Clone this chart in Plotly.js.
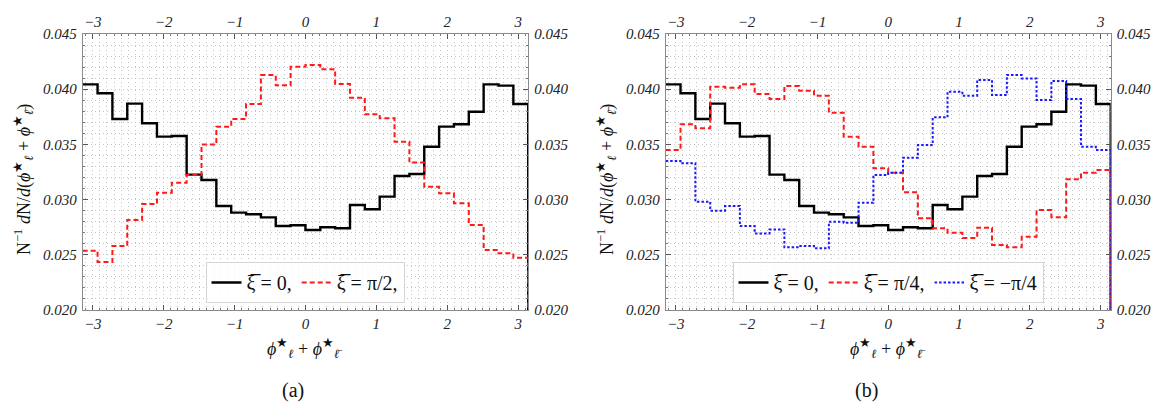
<!DOCTYPE html>
<html>
<head>
<meta charset="utf-8">
<script src="https://cdn.plot.ly/plotly-3.0.1.min.js"></script>
<style>
html,body{margin:0;padding:0;background:#fff;}
#chart{width:1153px;height:405px;}
</style>
</head>
<body>
<div id="chart"></div>
<script>
// ---- data (bin heights, 30 bins from -pi to pi) ----
var nBins = 30;
var xiZero = [0.04044,0.03963,0.0373,0.03869,0.03691,0.0357,0.03576,0.03226,0.03178,0.02942,0.02882,0.02867,0.02839,0.02761,0.02767,0.02725,0.02749,0.0274,0.02951,0.02912,0.03027,0.03214,0.03232,0.03479,0.03661,0.03682,0.03796,0.04044,0.04032,0.03866];
var xiPiHalf = [0.02537,0.02435,0.0258,0.02815,0.0296,0.03063,0.03153,0.03223,0.035,0.03661,0.0373,0.03866,0.04129,0.04035,0.04204,0.04219,0.0418,0.04047,0.03923,0.03772,0.03736,0.03525,0.03335,0.03117,0.03057,0.02966,0.0277,0.02543,0.02513,0.02474];
var xiPiQuarter = [0.03449,0.03682,0.03646,0.04023,0.04014,0.04044,0.03957,0.03911,0.04029,0.03987,0.03941,0.03787,0.0357,0.03479,0.03283,0.03244,0.03066,0.0283,0.0274,0.027,0.02652,0.02746,0.02589,0.02568,0.02664,0.02906,0.0284,0.03184,0.03244,0.03268];
var xiMinusPiQuarter = [0.0335,0.03329,0.02981,0.029,0.02942,0.02761,0.02694,0.0273,0.02568,0.0258,0.02559,0.028,0.02791,0.02972,0.03223,0.03244,0.0338,0.03495,0.03745,0.03978,0.03941,0.04083,0.03947,0.04129,0.04098,0.03902,0.04074,0.03911,0.03479,0.03449];
var legendA = ["ξ̅ = 0,", "ξ̅ = π/2,"];
var legendB = ["ξ̅ = 0,", "ξ̅ = π/4,", "ξ̅ = −π/4"];
var xTicks = [-3,-2,-1,0,1,2,3];
var yTicks = [0.020,0.025,0.030,0.035,0.040,0.045];

var PI = Math.PI;
var yMin = 0.020, yMax = 0.045;

function stepXY(vals){
  var xs = [], ys = [];
  for (var k = 0; k < vals.length; k++){
    xs.push(-PI + k*2*PI/vals.length);
    ys.push(vals[k]);
  }
  xs.push(PI); ys.push(vals[vals.length-1]);
  xs.push(PI); ys.push(yMin);   // closing drop at the right edge
  return {x: xs, y: ys};
}

function trace(vals, name, color, dash, width, xa, ya, leg){
  var s = stepXY(vals);
  return {x: s.x, y: s.y, type:'scatter', mode:'lines', name:name,
    line:{shape:'hv', color:color, dash:dash, width:width},
    xaxis:xa, yaxis:ya, legend:leg, hoverinfo:'skip'};
}

var data = [
  trace(xiZero, legendA[0], '#000000', 'solid', 2.4, 'x', 'y', 'legend'),
  trace(xiPiHalf, legendA[1], '#ff1a1a', '5px,3px', 2, 'x2', 'y2', 'legend'),
  trace(xiZero, legendB[0], '#000000', 'solid', 2.4, 'x3', 'y3', 'legend2'),
  trace(xiPiQuarter, legendB[1], '#ff1a1a', '5px,3px', 2, 'x4', 'y4', 'legend2'),
  trace(xiMinusPiQuarter, legendB[2], '#1a1aff', '2.5px,2px', 2, 'x4', 'y4', 'legend2')
];

var W = 1153, H = 405;
var domA = [82.7/W, 528.2/W];
var domB = [665.7/W, 1110.7/W];
var domY = [1-310/H, 1-34/H];

var serif = '"Liberation Serif", "Times New Roman", Times, serif';
var tickFont = {family:serif, size:15, color:'#222', style:'italic'};
var gridCol = '#c4c4c4';
var lineCol = '#8a8a8a';

function xAx(dom, anchor, side, overlay){
  var a = {range:[-PI,PI], tickvals:xTicks, ticktext:xTicks.map(function(v){return v<0?'−'+(-v):String(v);}),
    ticks:'inside', ticklen:5, tickcolor:'#555', showline:true, linecolor:lineCol, linewidth:1,
    zeroline:false, tickfont:tickFont, side:side, anchor:anchor, fixedrange:true,
    showgrid:!overlay, gridcolor:gridCol, griddash:'1px,3px', gridwidth:1,
    minor:{dtick:0.1, tick0:0, ticks:'inside', ticklen:2, tickcolor:'#777', showgrid:!overlay, gridcolor:gridCol, griddash:'1px,3px', gridwidth:1}
  };
  if (overlay) a.overlaying = overlay; else a.domain = dom;
  return a;
}
function yAx(anchor, side, overlay){
  var a = {range:[yMin,yMax], tickvals:yTicks, ticktext:yTicks.map(function(v){return v.toFixed(3);}),
    ticks:'inside', ticklen:5, tickcolor:'#555', showline:true, linecolor:lineCol, linewidth:1,
    zeroline:false, tickfont:tickFont, side:side, anchor:anchor, fixedrange:true, ticklabelstandoff:2,
    showgrid:!overlay, gridcolor:gridCol, griddash:'1px,3px', gridwidth:1,
    minor:{dtick:0.001, tick0:0, ticks:'inside', ticklen:2, tickcolor:'#777', showgrid:!overlay, gridcolor:gridCol, griddash:'1px,3px', gridwidth:1}
  };
  if (overlay) a.overlaying = overlay; else a.domain = domY;
  return a;
}

var yTitle = 'N<sup>−1</sup> <i>d</i>N/<i>d</i>(<i>ϕ</i><sup>★</sup><sub><i>ℓ</i></sub> + <i>ϕ</i><sup>★</sup><sub><i>ℓ̄</i></sub>)';
var xTitle = '<i>ϕ</i><sup>★</sup><sub><i>ℓ</i></sub> + <i>ϕ</i><sup>★</sup><sub><i>ℓ̄</i></sub>';

function ann(text, x, y, size, angle){
  return {text:text, xref:'paper', yref:'paper', x:x/W, y:1-y/H, xanchor:'center', yanchor:'middle',
    textangle:angle||0, showarrow:false, font:{family:serif, size:size, color:'#111'}};
}

var layout = {
  width:W, height:H,
  margin:{l:0,r:0,t:0,b:0},
  paper_bgcolor:'#ffffff', plot_bgcolor:'#ffffff',
  showlegend:true,
  xaxis: xAx(domA, 'y', 'bottom', null),
  yaxis: yAx('x', 'left', null),
  xaxis2: xAx(domA, 'y2', 'top', 'x'),
  yaxis2: yAx('x2', 'right', 'y'),
  xaxis3: xAx(domB, 'y3', 'bottom', null),
  yaxis3: yAx('x3', 'left', null),
  xaxis4: xAx(domB, 'y4', 'top', 'x3'),
  yaxis4: yAx('x4', 'right', 'y3'),
  legend:{orientation:'h', x:305/W, xanchor:'center', y:1-303/H, yanchor:'bottom',
    bgcolor:'rgba(255,255,255,0.85)', bordercolor:'#d6d6d6', borderwidth:1,
    font:{family:serif, size:20, color:'#111'}, itemwidth:30, tracegroupgap:0},
  legend2:{orientation:'h', x:888/W, xanchor:'center', y:1-303/H, yanchor:'bottom',
    bgcolor:'rgba(255,255,255,0.85)', bordercolor:'#d6d6d6', borderwidth:1,
    font:{family:serif, size:20, color:'#111'}, itemwidth:30, tracegroupgap:0},
  annotations:[
    ann(yTitle, 23, 180, 18, -90),
    ann(yTitle, 606, 180, 18, -90),
    ann(xTitle, 305, 348, 18),
    ann(xTitle, 888, 348, 18),
    ann('(a)', 293, 390, 20),
    ann('(b)', 866, 390, 20)
  ]
};

Plotly.newPlot('chart', data, layout, {staticPlot:true, displayModeBar:false});
</script>
</body>
</html>
